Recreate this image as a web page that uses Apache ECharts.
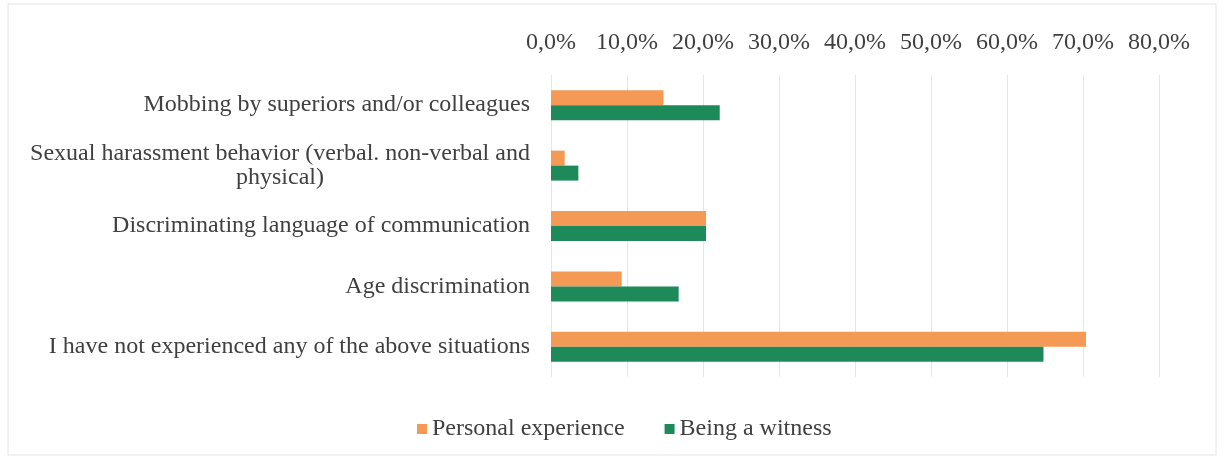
<!DOCTYPE html>
<html>
<head>
<meta charset="utf-8">
<script src="https://cdn.jsdelivr.net/npm/echarts@6/dist/echarts.min.js"></script>
<style>
  html, body { margin: 0; padding: 0; background: #fff; }
  #chart { width: 1224px; height: 460px; }
</style>
</head>
<body>
<div id="chart"></div>
<script>
// categories, top to bottom
const categories = [
  "Mobbing by superiors and/or colleagues",
  "Sexual harassment behavior (verbal. non-verbal and\nphysical)",
  "Discriminating language of communication",
  "Age discrimination",
  "I have not experienced any of the above situations"
];
const personalExperience = [14.8, 1.8, 20.4, 9.3, 70.4];
const beingWitness = [22.2, 3.6, 20.4, 16.8, 64.8];
const xTicks = [0, 10, 20, 30, 40, 50, 60, 70, 80];

const chart = echarts.init(document.getElementById("chart"));
const serif = "Liberation Serif";

const option = {
  animation: false,
  textStyle: { fontFamily: serif },
  graphic: [{
    type: "rect",
    shape: { x: 8, y: 4, width: 1208, height: 451 },
    style: { fill: "none", stroke: "#e4e4e4", lineWidth: 1 }
  }],
  legend: {
    data: ["Personal experience", "Being a witness"],
    bottom: 14,
    left: 412,
    icon: "rect",
    itemWidth: 10,
    itemHeight: 10,
    itemGap: 40,
    textStyle: { fontFamily: serif, fontSize: 24, color: "#404040" }
  },
  grid: { left: 551, right: 65, top: 75, bottom: 83 },
  xAxis: {
    type: "value",
    position: "top",
    min: xTicks[0],
    max: xTicks[xTicks.length - 1],
    interval: 10,
    axisLine: { show: false },
    axisTick: { show: false },
    splitLine: { lineStyle: { color: "#e6e6e6" } },
    axisLabel: {
      fontFamily: serif,
      fontSize: 24,
      color: "#404040",
      margin: 20,
      formatter: v => v.toFixed(1).replace(".", ",") + "%"
    }
  },
  yAxis: {
    type: "category",
    inverse: true,
    data: categories,
    axisLine: { show: false },
    axisTick: { show: false },
    axisLabel: {
      fontFamily: serif,
      fontSize: 24,
      color: "#404040",
      margin: 21,
      lineHeight: 24,
      align: "right",
      formatter: v => v.indexOf("\n") < 0 ? v :
        v.split("\n").map(s => "{c|" + s + "}").join("\n"),
      rich: {
        c: { fontFamily: serif, fontSize: 24, color: "#404040", lineHeight: 24, width: 500, align: "center" }
      }
    }
  },
  series: [
    {
      name: "Personal experience",
      type: "bar",
      data: personalExperience,
      barWidth: 15,
      barGap: "0%",
      itemStyle: { color: "#f59a55" }
    },
    {
      name: "Being a witness",
      type: "bar",
      data: beingWitness,
      barWidth: 15,
      itemStyle: { color: "#1e8a5a" }
    }
  ]
};
chart.setOption(option);
</script>
</body>
</html>
